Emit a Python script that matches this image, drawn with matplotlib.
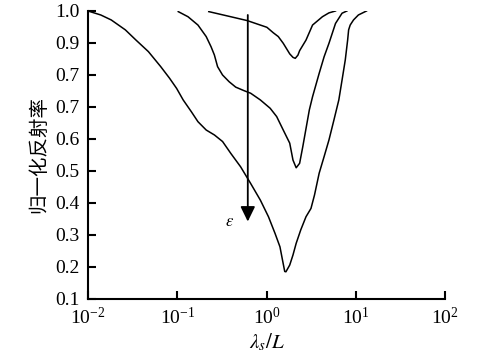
import matplotlib
matplotlib.use("Agg")
import matplotlib.pyplot as plt

plt.rcParams['font.family'] = ['Liberation Serif', 'Noto Sans CJK SC']
plt.rcParams['mathtext.fontset'] = 'stix'

# curves (x = lambda_s/L, y = normalised reflectance)
x1 = [0.01, 0.0139, 0.0182, 0.0262, 0.0345, 0.0475, 0.0653, 0.0819, 0.0984, 0.1165, 0.144,
      0.1706, 0.211, 0.261, 0.322, 0.398, 0.513, 0.661, 0.853, 1.052, 1.246, 1.415, 1.51,
      1.60, 1.65, 1.82, 1.98, 2.15, 2.42, 2.77, 3.15, 3.45, 3.89, 4.42, 5.01, 5.69, 6.46,
      7.02, 7.63, 8.11, 8.32, 8.66, 9.44, 10.7, 13.2]
y1 = [1.0, 0.9875, 0.972, 0.941, 0.909, 0.873, 0.826, 0.790, 0.758, 0.722, 0.685,
      0.654, 0.628, 0.6125, 0.592, 0.555, 0.513, 0.462, 0.409, 0.357, 0.305, 0.263, 0.222,
      0.186, 0.185, 0.206, 0.2375, 0.274, 0.316, 0.357, 0.383, 0.425, 0.493, 0.545, 0.597,
      0.659, 0.722, 0.784, 0.847, 0.909, 0.941, 0.956, 0.972, 0.9875, 1.0]

x2 = [0.1026, 0.132, 0.1706, 0.211, 0.2394, 0.2606, 0.283, 0.3216, 0.381, 0.452, 0.560,
      0.664, 0.853, 1.099, 1.30, 1.54, 1.82, 1.98, 2.15, 2.35, 2.55, 3.02, 3.28, 3.89,
      4.42, 5.01, 5.93, 7.02, 7.96]
y2 = [0.998, 0.982, 0.956, 0.920, 0.888, 0.8625, 0.826, 0.800, 0.779, 0.762, 0.751,
      0.743, 0.722, 0.696, 0.670, 0.628, 0.587, 0.534, 0.510, 0.524, 0.576, 0.691, 0.732,
      0.805, 0.857, 0.899, 0.961, 0.993, 1.0]

x3 = [0.2255, 0.398, 0.607, 1.01, 1.19, 1.355, 1.54, 1.67, 1.82, 1.98, 2.10, 2.25, 2.35,
      2.77, 3.28, 4.23, 5.0, 5.93]
y3 = [0.998, 0.982, 0.970, 0.949, 0.932, 0.920, 0.899, 0.883, 0.866, 0.855, 0.852, 0.862,
      0.876, 0.909, 0.956, 0.982, 0.994, 1.0]

yticks = [1.0, 0.9, 0.8, 0.7, 0.6, 0.5, 0.4, 0.3, 0.2, 0.1]
ytick_labels = ['1.0', '0.9', '0.7', '0.7', '0.6', '0.5', '0.4', '0.3', '0.2', '0.1']

arrow_x = 0.617
arrow_top = 0.9875
arrow_tip = 0.342
eps_x = 0.381

fig = plt.figure(figsize=(4.98, 3.54), dpi=100)
ax = fig.add_axes([0.1767, 0.1554, 0.7169, 0.8136])

for xs, ys in [(x1, y1), (x2, y2), (x3, y3)]:
    ax.plot(xs, ys, color='black', lw=1.1, solid_joinstyle='round')

ax.annotate('', xy=(arrow_x, arrow_tip), xytext=(arrow_x, arrow_top),
            arrowprops=dict(arrowstyle='-|>,head_length=0.45,head_width=0.22', mutation_scale=20,
                            color='black', lw=1.3, shrinkA=0, shrinkB=0))
ax.text(eps_x, arrow_tip, r'$\varepsilon$', fontsize=12, ha='center', va='center')

ax.set_xscale('log')
ax.set_xlim(0.01, 100)
ax.set_ylim(0.1, 1.0)
ax.set_xticks([0.01, 0.1, 1, 10, 100])
ax.minorticks_off()
ax.set_yticks(yticks)
ax.set_yticklabels(ytick_labels)

for s in ['top', 'right']:
    ax.spines[s].set_visible(False)
for s in ['left', 'bottom']:
    ax.spines[s].set_linewidth(1.5)
ax.tick_params(direction='in', length=5.5, width=1.5, labelsize=14, pad=6)

ax.set_xlabel(r'$\lambda_s/L$', fontsize=15, labelpad=2)
ax.set_ylabel('归一化反射率', fontsize=14, family='Noto Sans CJK SC', labelpad=4)

plt.savefig('out.png', dpi=100)
